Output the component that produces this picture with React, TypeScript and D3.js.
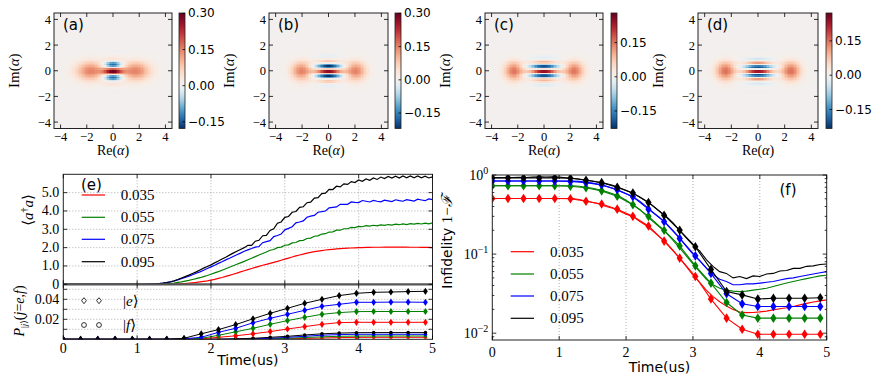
import React from "react";
import * as d3 from "d3";

// ---------- shared ----------
const seriesLabels = ["0.035", "0.055", "0.075", "0.095"];
const seriesColors = ["#ff0000", "#008000", "#0000ff", "#000000"];

// ---------- Wigner panels (a)-(d) ----------
const wignerLabels = ["(a)", "(b)", "(c)", "(d)"];
const blobCenter = [1.7, 2.05, 2.3, 2.45];
const blobSpreadX = [0.75, 1.6, 1.8, 1.8];
const blobPeak = [0.15, 0.15, 0.15, 0.15];
const fringeFreq = [5.7, 7.7, 8.5, 9.5];
const fringeWidth = [2.0, 1.2, 1.0, 1.0];
const fringePeak = [0.28, 0.3, 0.28, 0.27];
const cbarMin = [-0.178, -0.22, -0.227, -0.233];
const cbarMax = [0.302, 0.302, 0.28, 0.272];
const cbarTicks = [
  [0.3, 0.15, 0, -0.15],
  [0.3, 0.15, 0, -0.15],
  [0.15, 0, -0.15],
  [0.15, 0, -0.15],
];
const phaseTicks = [-4, -2, 0, 2, 4];

// ---------- panel (e) ----------
const timeTicks = [0, 1, 2, 3, 4, 5];
const photonTicks = [0, 1, 2, 3, 4, 5];
const photonTickLabels = ["0", "1.0", "2.0", "3.0", "4.0", "5.0"];
const popTicks = [0.01, 0.02, 0.03, 0.04, 0.05];
const popLabelTicks = [0.02, 0.04];

// sample times of the <a+a> curves, every 0.05 us
const photonTimes = d3.range(101).map((k) => k * 0.05);
const photonRed = [
  0, 0, 0, 0, 0, 0, 0, 0, 0, 0, 0, 0, 0, 0, 0, 0, 0, 0, 0, 0, 0, 0, 0, 0, 0, 0, 0, 0, 0,
  0.005, 0.01, 0.02, 0.03, 0.045, 0.06, 0.08, 0.1, 0.13, 0.16, 0.19, 0.23, 0.27, 0.32, 0.37, 0.43,
  0.49, 0.55, 0.61, 0.68, 0.74, 0.8, 0.86, 0.92, 0.98, 1.04, 1.09, 1.14, 1.2, 1.25, 1.31, 1.37,
  1.43, 1.49, 1.55, 1.6, 1.65, 1.7, 1.74, 1.78, 1.81, 1.84, 1.87, 1.89, 1.91, 1.93, 1.95, 1.96,
  1.97, 1.98, 1.99, 2.0,
  2.0, 2.01, 2.01, 2.02, 2.02, 2.02, 2.03, 2.03, 2.03, 2.03, 2.03, 2.03, 2.03, 2.02, 2.02, 2.02,
  2.01, 2.01, 2.01, 2.0,
];
const photonGreen = [
  0, 0, 0, 0, 0, 0, 0, 0, 0, 0, 0, 0, 0, 0, 0, 0, 0, 0, 0, 0, 0, 0, 0, 0, 0, 0,
  0.01, 0.02, 0.03, 0.05, 0.07, 0.1, 0.13, 0.17, 0.21, 0.26, 0.31, 0.36, 0.42, 0.48, 0.55, 0.62,
  0.69, 0.77, 0.85, 0.93, 1.01, 1.09, 1.17, 1.25, 1.34, 1.42, 1.51, 1.6, 1.68, 1.76,
  1.86, 1.9, 2.0, 2.03, 2.13, 2.15, 2.26, 2.28, 2.38, 2.4, 2.5, 2.52, 2.62, 2.64, 2.74, 2.76,
  2.85, 2.86, 2.95, 2.95, 3.03, 3.03, 3.1, 3.09, 3.16, 3.14, 3.2, 3.17, 3.22, 3.19, 3.24, 3.21,
  3.26, 3.23, 3.28, 3.25, 3.3, 3.26, 3.31, 3.28, 3.32, 3.29, 3.34, 3.3, 3.35,
];
const photonBlue = [
  0, 0, 0, 0, 0, 0, 0, 0, 0, 0, 0, 0, 0, 0, 0, 0, 0, 0, 0, 0, 0, 0, 0, 0,
  0.01, 0.02, 0.04, 0.06, 0.09, 0.13, 0.18, 0.24, 0.3, 0.37, 0.44, 0.52, 0.6, 0.68, 0.77, 0.86,
  0.95, 1.04, 1.14, 1.23, 1.33, 1.42, 1.52, 1.61, 1.7, 1.8, 1.88, 1.95,
  2.03, 2.06, 2.27, 2.33, 2.38, 2.6, 2.66, 2.74, 2.97, 3.05, 3.14, 3.35, 3.4, 3.46, 3.66, 3.72,
  3.76, 3.93, 3.96, 4.0, 4.17, 4.2, 4.22, 4.36, 4.36, 4.36, 4.49, 4.47, 4.46, 4.57, 4.53, 4.49,
  4.58, 4.53, 4.5, 4.59, 4.55, 4.51, 4.61, 4.56, 4.53, 4.62, 4.58, 4.54, 4.64, 4.6, 4.56, 4.66,
  4.62,
];
const photonBlack = [
  0, 0, 0, 0, 0, 0, 0, 0, 0, 0, 0, 0, 0, 0, 0, 0, 0, 0, 0, 0, 0, 0, 0,
  0.005, 0.01, 0.02, 0.04, 0.06, 0.1, 0.14, 0.19, 0.26, 0.34, 0.42, 0.5, 0.59, 0.68, 0.78, 0.88,
  0.97, 1.06, 1.17, 1.27, 1.38, 1.48, 1.59, 1.7, 1.8, 1.9, 2.0,
  2.13, 2.12, 2.35, 2.4, 2.65, 2.67, 2.94, 3.03, 3.33, 3.4, 3.65, 3.7, 3.93, 3.97, 4.2, 4.23,
  4.45, 4.48, 4.7, 4.73, 4.95, 4.97, 5.18, 5.17, 5.35, 5.31, 5.48, 5.45, 5.6, 5.55, 5.69, 5.62,
  5.75, 5.67, 5.8, 5.72, 5.85, 5.77, 5.88, 5.79, 5.9, 5.8, 5.91, 5.81, 5.91, 5.81, 5.91, 5.81,
  5.9, 5.8, 5.86,
];

// marker times shared by the population and infidelity markers
const markerTimes = [
  0, 0.234, 0.467, 0.701, 0.934, 1.168, 1.401, 1.635, 1.868, 2.102, 2.335, 2.569, 2.802, 3.036,
  3.269, 3.503, 3.736, 3.97, 4.203, 4.437, 4.67, 4.904,
];
const popERed = [0, 0, 0, 0, 0, 0, 0, 0, 0.0005, 0.002, 0.0035, 0.0055, 0.0077, 0.0103, 0.0127, 0.015, 0.0167, 0.017, 0.017, 0.017, 0.017, 0.017];
const popEGreen = [0, 0, 0, 0, 0, 0, 0, 0, 0.001, 0.004, 0.0075, 0.011, 0.015, 0.0187, 0.022, 0.025, 0.0267, 0.0277, 0.0278, 0.0278, 0.0278, 0.0278];
const popEBlue = [0, 0, 0, 0, 0, 0, 0, 0.0005, 0.002, 0.007, 0.011, 0.0165, 0.021, 0.025, 0.029, 0.033, 0.035, 0.037, 0.037, 0.0372, 0.0372, 0.037];
const popEBlack = [0, 0, 0, 0, 0, 0, 0, 0.001, 0.0055, 0.0097, 0.0147, 0.0205, 0.026, 0.031, 0.036, 0.04, 0.0437, 0.046, 0.047, 0.0473, 0.0477, 0.048];
const popFRed = [0, 0, 0, 0, 0, 0, 0, 0, 0, 0, 0, 0, 0.0002, 0.0005, 0.0009, 0.0013, 0.0017, 0.0019, 0.002, 0.002, 0.002, 0.002];
const popFGreen = [0, 0, 0, 0, 0, 0, 0, 0, 0, 0, 0, 0.0002, 0.0005, 0.001, 0.0018, 0.0025, 0.003, 0.0032, 0.0033, 0.0033, 0.0033, 0.0033];
const popFBlue = [0, 0, 0, 0, 0, 0, 0, 0, 0, 0, 0.0002, 0.0005, 0.001, 0.002, 0.003, 0.0041, 0.0047, 0.005, 0.005, 0.005, 0.005, 0.005];
const popFBlack = [0, 0, 0, 0, 0, 0, 0, 0, 0, 0, 0.0005, 0.001, 0.002, 0.003, 0.0043, 0.0055, 0.0062, 0.0066, 0.0067, 0.0067, 0.0067, 0.0067];

// ---------- panel (f) ----------
const infidelityTimes = d3.range(51).map((k) => k * 0.1);
const infRed = [
  0.505, 0.505, 0.505, 0.505, 0.505, 0.505, 0.505, 0.505, 0.505, 0.505, 0.505, 0.505, 0.505,
  0.49, 0.47, 0.45, 0.43, 0.4, 0.38, 0.35, 0.32, 0.3, 0.26, 0.23, 0.195, 0.165, 0.14, 0.112, 0.089,
  0.07, 0.054, 0.044, 0.035, 0.029, 0.025, 0.022, 0.02, 0.0185, 0.0182, 0.0183, 0.0186, 0.019,
  0.0197, 0.0204, 0.021, 0.0218, 0.0228, 0.0238, 0.0248, 0.0256, 0.0264,
];
const infGreen = [
  0.73, 0.73, 0.73, 0.73, 0.73, 0.73, 0.73, 0.73, 0.73, 0.73, 0.73, 0.73, 0.73,
  0.72, 0.7, 0.68, 0.65, 0.62, 0.58, 0.54, 0.48, 0.42, 0.37, 0.31, 0.26, 0.22, 0.185, 0.15, 0.12,
  0.095, 0.075, 0.06, 0.048, 0.041, 0.037, 0.035, 0.034, 0.0335, 0.034, 0.035, 0.036, 0.037,
  0.039, 0.041, 0.043, 0.045, 0.047, 0.049, 0.051, 0.053, 0.054,
];
const infBlue = [
  0.84, 0.84, 0.84, 0.84, 0.84, 0.84, 0.84, 0.84, 0.84, 0.84, 0.84, 0.84, 0.84,
  0.83, 0.81, 0.79, 0.76, 0.72, 0.68, 0.63, 0.58, 0.53, 0.47, 0.4, 0.34, 0.29, 0.245, 0.2, 0.16,
  0.125, 0.1, 0.083, 0.067, 0.055, 0.048, 0.045, 0.041, 0.041, 0.042, 0.042, 0.043, 0.044, 0.045,
  0.047, 0.049, 0.05, 0.052, 0.054, 0.056, 0.058, 0.06,
];
const infBlack = [
  0.92, 0.93, 0.925, 0.93, 0.935, 0.93, 0.94, 0.95, 0.945, 0.95, 0.94, 0.925, 0.91,
  0.89, 0.86, 0.84, 0.81, 0.78, 0.74, 0.69, 0.64, 0.59, 0.53, 0.47, 0.41, 0.35, 0.3, 0.25, 0.2,
  0.16, 0.13, 0.11, 0.085, 0.07, 0.06, 0.057, 0.05, 0.052, 0.049, 0.053, 0.052, 0.056, 0.057,
  0.061, 0.062, 0.066, 0.066, 0.07, 0.071, 0.074, 0.075,
];
const infMkRed = [0.505, 0.505, 0.505, 0.505, 0.505, 0.5, 0.465, 0.43, 0.37, 0.3, 0.227, 0.146, 0.089, 0.052, 0.027, 0.0155, 0.0112, 0.0097, 0.0097, 0.0097, 0.0097, 0.0097];
const infMkGreen = [0.73, 0.73, 0.73, 0.73, 0.73, 0.72, 0.69, 0.63, 0.54, 0.42, 0.3, 0.2, 0.127, 0.071, 0.043, 0.0244, 0.017, 0.0155, 0.0155, 0.0155, 0.0155, 0.0155];
const infMkBlue = [0.84, 0.84, 0.84, 0.84, 0.84, 0.83, 0.8, 0.75, 0.65, 0.53, 0.37, 0.257, 0.158, 0.095, 0.057, 0.0315, 0.0235, 0.0217, 0.0217, 0.0217, 0.0217, 0.0217];
const infMkBlack = [0.92, 0.92, 0.92, 0.92, 0.92, 0.91, 0.86, 0.8, 0.7, 0.59, 0.45, 0.31, 0.2, 0.124, 0.064, 0.0336, 0.0305, 0.027, 0.0276, 0.0276, 0.0276, 0.028];
const infDecades = [0, -1, -2];

// ---------- layout ----------
const SERIF = "'Liberation Serif', 'DejaVu Serif', serif";
const SANS = "'DejaVu Sans', sans-serif";
const HEAT = {
  top: 13,
  bottom: 128.5,
  x0: [54, 269, 485, 698],
  x1: [172, 388, 603, 818],
  cb: [179, 395, 611, 826],
  cbW: 6,
};
const GRID = 80;
const E = { left: 63.3, right: 432.5, top: 174.3, mid: 284.3, bottom: 339.3 };
const F = { left: 492.3, right: 826.7, top: 175, bottom: 340 };

const wigner = (i: number, re: number, im: number) => {
  const blob = (x: number) => Math.exp(-blobSpreadX[i] * x * x - 1.8 * im * im);
  const envelope = Math.exp(-fringeWidth[i] * re * re - 2 * im * im);
  return (
    blobPeak[i] * (blob(re - blobCenter[i]) + blob(re + blobCenter[i])) +
    fringePeak[i] * envelope * Math.cos(fringeFreq[i] * im)
  );
};

const diamond = (w: number, h: number) => `M0,${-h}L${w},0L0,${h}L${-w},0Z`;

function WignerPanel({ i }: { i: number }) {
  const x0 = HEAT.x0[i];
  const x1 = HEAT.x1[i];
  const xs = d3.scaleLinear().domain([-4.5, 4.5]).range([x0, x1]);
  const ys = d3.scaleLinear().domain([-4.5, 4.5]).range([HEAT.bottom, HEAT.top]);
  const color = d3
    .scaleDiverging((t: number) => d3.interpolateRdBu(1 - t))
    .domain([cbarMin[i], 0, cbarMax[i]])
    .clamp(true);
  const step = 9 / GRID;
  const centers = d3.range(GRID).map((k) => -4.5 + (k + 0.5) * step);
  const cw = xs(step) - xs(0);
  const ch = ys(0) - ys(step);
  const cells: any[] = [];
  centers.forEach((re, a) =>
    centers.forEach((im, b) => {
      cells.push(
        <rect
          key={a * GRID + b}
          x={xs(re) - cw / 2}
          y={ys(im) - ch / 2}
          width={cw + 0.35}
          height={ch + 0.35}
          fill={color(wigner(i, re, im))}
        />
      );
    })
  );
  const cbX = HEAT.cb[i];
  const cbY = d3.scaleLinear().domain([cbarMin[i], cbarMax[i]]).range([HEAT.bottom, HEAT.top]);
  const fmt = d3.format(".2f");
  const fmtInt = d3.format("d");
  const gid = `cbar${i}`;
  return (
    <g>
      <defs>
        <linearGradient id={gid} x1="0" y1="1" x2="0" y2="0">
          {d3.range(0, 1.0001, 0.02).map((s) => (
            <stop key={s} offset={s} stopColor={color(cbarMin[i] + s * (cbarMax[i] - cbarMin[i]))} />
          ))}
        </linearGradient>
      </defs>
      <g shapeRendering="crispEdges">{cells}</g>
      <rect x={x0} y={HEAT.top} width={x1 - x0} height={HEAT.bottom - HEAT.top} fill="none" stroke="#222" strokeWidth={1} />
      {phaseTicks.map((t) => (
        <g key={"t" + t} stroke="#000" strokeWidth={0.8}>
          <line x1={xs(t)} x2={xs(t)} y1={HEAT.bottom} y2={HEAT.bottom - 4} />
          <line x1={xs(t)} x2={xs(t)} y1={HEAT.top} y2={HEAT.top + 4} />
          <line x1={x0} x2={x0 + 4} y1={ys(t)} y2={ys(t)} />
          <line x1={x1} x2={x1 - 4} y1={ys(t)} y2={ys(t)} />
        </g>
      ))}
      {phaseTicks.map((t) => (
        <text key={"xl" + t} x={xs(t)} y={HEAT.bottom + 12} textAnchor="middle" fontFamily={SERIF} fontSize={12.5}>
          {fmtInt(t)}
        </text>
      ))}
      {phaseTicks.map((t) => (
        <text key={"yl" + t} x={x0 - 3} y={ys(t) + 4.5} textAnchor="end" fontFamily={SERIF} fontSize={12.5}>
          {fmtInt(t)}
        </text>
      ))}
      <text x={(x0 + x1) / 2} y={155} textAnchor="middle" fontFamily={SERIF} fontSize={14}>
        Re(<tspan fontStyle="italic">α</tspan>)
      </text>
      <text
        transform={`translate(${x0 - 35},${(HEAT.top + HEAT.bottom) / 2}) rotate(-90)`}
        textAnchor="middle"
        fontFamily={SERIF}
        fontSize={15}
      >
        Im(<tspan fontStyle="italic">α</tspan>)
      </text>
      <text x={x0 + 9} y={HEAT.top + 17} fontFamily={SANS} fontSize={15}>
        {wignerLabels[i]}
      </text>
      <rect x={cbX} y={HEAT.top} width={HEAT.cbW} height={HEAT.bottom - HEAT.top} fill={`url(#${gid})`} stroke="#222" strokeWidth={0.8} />
      {cbarTicks[i].map((v) => (
        <g key={"cb" + v}>
          <line x1={cbX + HEAT.cbW} x2={cbX + HEAT.cbW - 2.5} y1={cbY(v)} y2={cbY(v)} stroke="#000" strokeWidth={0.8} />
          <text x={cbX + HEAT.cbW + 3} y={cbY(v) + 4} fontFamily={SANS} fontSize={12}>
            {fmt(v)}
          </text>
        </g>
      ))}
    </g>
  );
}

function PhotonPanel() {
  const x = d3.scaleLinear().domain([0, 5]).range([E.left, E.right]);
  const yTop = d3.scaleLinear().domain([0, 6]).range([E.mid, E.top]);
  const yBot = d3.scaleLinear().domain([0, 0.055]).range([E.bottom, E.mid]);
  const photonSeries = [photonRed, photonGreen, photonBlue, photonBlack];
  const popE = [popERed, popEGreen, popEBlue, popEBlack];
  const popF = [popFRed, popFGreen, popFBlue, popFBlack];
  const topLine = d3
    .line<number>()
    .x((_, k) => x(photonTimes[k]))
    .y((v) => yTop(v));
  const botLine = d3
    .line<number>()
    .x((_, k) => x(markerTimes[k]))
    .y((v) => yBot(v));
  const legendY = [195, 217.3, 239.3, 261.7];
  return (
    <g>
      <defs>
        <clipPath id="clipETop">
          <rect x={E.left} y={E.top} width={E.right - E.left} height={E.mid - E.top} />
        </clipPath>
        <clipPath id="clipEBot">
          <rect x={E.left} y={E.mid} width={E.right - E.left} height={E.bottom - E.mid} />
        </clipPath>
      </defs>
      {/* grids */}
      <g stroke="#9a9a9a" strokeWidth={0.8} strokeDasharray="1,2">
        {timeTicks.slice(1, 5).map((t) => (
          <line key={"gx" + t} x1={x(t)} x2={x(t)} y1={E.top} y2={E.bottom} />
        ))}
        {photonTicks.slice(1).map((v) => (
          <line key={"gy" + v} x1={E.left} x2={E.right} y1={yTop(v)} y2={yTop(v)} />
        ))}
        {popTicks.map((v) => (
          <line key={"gp" + v} x1={E.left} x2={E.right} y1={yBot(v)} y2={yBot(v)} />
        ))}
      </g>
      {/* top: mean photon number */}
      <g clipPath="url(#clipETop)" fill="none" strokeWidth={1.2}>
        {photonSeries.map((s, k) => (
          <path key={k} d={topLine(s) || ""} stroke={seriesColors[k]} />
        ))}
      </g>
      {/* bottom: populations */}
      <g clipPath="url(#clipEBot)">
        {popF.map((s, k) => (
          <g key={"f" + k}>
            <path d={botLine(s) || ""} fill="none" stroke={seriesColors[k]} strokeWidth={1} />
            {s.map((v, j) => (
              <circle key={j} cx={x(markerTimes[j])} cy={yBot(v)} r={1.8} fill={seriesColors[k]} />
            ))}
          </g>
        ))}
        {popE.map((s, k) => (
          <g key={"e" + k}>
            <path d={botLine(s) || ""} fill="none" stroke={seriesColors[k]} strokeWidth={1} />
            {s.map((v, j) => (
              <path key={j} d={diamond(2.4, 3.6)} transform={`translate(${x(markerTimes[j])},${yBot(v)})`} fill={seriesColors[k]} />
            ))}
          </g>
        ))}
      </g>
      {/* frames */}
      <rect x={E.left} y={E.top} width={E.right - E.left} height={E.bottom - E.top} fill="none" stroke="#222" strokeWidth={1} />
      <line x1={E.left} x2={E.right} y1={E.mid} y2={E.mid} stroke="#555" strokeWidth={2.2} />
      {/* ticks */}
      <g stroke="#000" strokeWidth={0.8}>
        {timeTicks.map((t) => (
          <g key={"xt" + t}>
            <line x1={x(t)} x2={x(t)} y1={E.top} y2={E.top + 4} />
            <line x1={x(t)} x2={x(t)} y1={E.mid} y2={E.mid - 4} />
            <line x1={x(t)} x2={x(t)} y1={E.mid} y2={E.mid + 4} />
            <line x1={x(t)} x2={x(t)} y1={E.bottom} y2={E.bottom - 4} />
          </g>
        ))}
        {photonTicks.map((v) => (
          <g key={"yt" + v}>
            <line x1={E.left} x2={E.left + 4} y1={yTop(v)} y2={yTop(v)} />
            <line x1={E.right} x2={E.right - 4} y1={yTop(v)} y2={yTop(v)} />
          </g>
        ))}
        {popTicks.map((v) => (
          <g key={"pt" + v}>
            <line x1={E.left} x2={E.left + 4} y1={yBot(v)} y2={yBot(v)} />
            <line x1={E.right} x2={E.right - 4} y1={yBot(v)} y2={yBot(v)} />
          </g>
        ))}
      </g>
      {/* tick labels */}
      <g fontFamily={SERIF} fontSize={14}>
        {photonTicks.map((v, k) => (
          <text key={"yl" + v} x={E.left - 4} y={yTop(v) + 4.5} textAnchor="end">
            {photonTickLabels[k]}
          </text>
        ))}
        {popLabelTicks.map((v) => (
          <text key={"pl" + v} x={E.left - 4} y={yBot(v) + 4.5} textAnchor="end">
            {d3.format(".2f")(v)}
          </text>
        ))}
        {timeTicks.map((t) => (
          <text key={"xl" + t} x={x(t)} y={352.5} textAnchor="middle">
            {t}
          </text>
        ))}
      </g>
      <text x={(E.left + E.right) / 2} y={365} textAnchor="middle" fontFamily={SANS} fontSize={14}>
        Time(us)
      </text>
      <text transform="translate(33,210) rotate(-90)" textAnchor="middle" fontFamily={SERIF} fontSize={15}>
        ⟨<tspan fontStyle="italic">a</tspan>
        <tspan fontSize={10} dy={-5}>†</tspan>
        <tspan fontStyle="italic" dy={5}>a</tspan>⟩
      </text>
      <text transform="translate(24,311) rotate(-90)" textAnchor="middle" fontFamily={SERIF} fontSize={14}>
        <tspan fontStyle="italic">P</tspan>
        <tspan fontSize={9} dy={3}>|</tspan>
        <tspan fontSize={9} fontStyle="italic">j</tspan>
        <tspan fontSize={9}>⟩</tspan>
        <tspan dy={-3}>(</tspan>
        <tspan fontStyle="italic">j</tspan>=<tspan fontStyle="italic">e</tspan>,<tspan fontStyle="italic">f</tspan>)
      </text>
      {/* legends */}
      <text x={81} y={190} fontFamily={SANS} fontSize={15}>
        (e)
      </text>
      {seriesLabels.map((lab, k) => (
        <g key={lab}>
          <line x1={81.7} x2={105} y1={legendY[k]} y2={legendY[k]} stroke={seriesColors[k]} strokeWidth={1.2} />
          <text x={120.7} y={legendY[k] + 5} fontFamily={SERIF} fontSize={15}>
            {lab}
          </text>
        </g>
      ))}
      {[84, 99].map((lx) => (
        <g key={lx}>
          <path d={diamond(2.4, 3)} transform={`translate(${lx},300.7)`} fill="#fff" stroke="#000" strokeWidth={0.8} />
          <circle cx={lx} cy={325} r={2.4} fill="#fff" stroke="#000" strokeWidth={0.8} />
        </g>
      ))}
      <text x={123} y={305.5} fontFamily={SERIF} fontSize={15}>
        |<tspan fontStyle="italic">e</tspan>⟩
      </text>
      <text x={123} y={330} fontFamily={SERIF} fontSize={15}>
        |<tspan fontStyle="italic">f</tspan>⟩
      </text>
    </g>
  );
}

function InfidelityPanel() {
  const x = d3.scaleLinear().domain([0, 5]).range([F.left, F.right]);
  const y = d3.scaleLog().domain([0.0082, 1]).range([F.bottom, F.top]);
  const lines = [infRed, infGreen, infBlue, infBlack];
  const marks = [infMkRed, infMkGreen, infMkBlue, infMkBlack];
  const curve = d3
    .line<number>()
    .x((_, k) => x(infidelityTimes[k]))
    .y((v) => y(v));
  const markCurve = d3
    .line<number>()
    .x((_, k) => x(markerTimes[k]))
    .y((v) => y(v));
  const minor: number[] = [];
  [-3, -2, -1].forEach((d) =>
    d3.range(2, 10).forEach((m) => {
      const v = m * Math.pow(10, d);
      if (v >= 0.0082 && v < 1) minor.push(v);
    })
  );
  const legendY = [251.7, 274, 296, 318.3];
  return (
    <g>
      <defs>
        <clipPath id="clipF">
          <rect x={F.left} y={F.top} width={F.right - F.left} height={F.bottom - F.top} />
        </clipPath>
      </defs>
      <g stroke="#9a9a9a" strokeWidth={0.8} strokeDasharray="1,2">
        {timeTicks.slice(1, 5).map((t) => (
          <line key={t} x1={x(t)} x2={x(t)} y1={F.top} y2={F.bottom} />
        ))}
      </g>
      <g clipPath="url(#clipF)">
        {lines.map((s, k) => (
          <path key={"l" + k} d={curve(s) || ""} fill="none" stroke={seriesColors[k]} strokeWidth={1.1} />
        ))}
        {marks.map((s, k) => (
          <g key={"m" + k}>
            <path d={markCurve(s) || ""} fill="none" stroke={seriesColors[k]} strokeWidth={1.1} />
            {s.map((v, j) => (
              <path key={j} d={diamond(3.1, 4.8)} transform={`translate(${x(markerTimes[j])},${y(v)})`} fill={seriesColors[k]} />
            ))}
          </g>
        ))}
      </g>
      <rect x={F.left} y={F.top} width={F.right - F.left} height={F.bottom - F.top} fill="none" stroke="#222" strokeWidth={1} />
      <g stroke="#000" strokeWidth={0.8}>
        {timeTicks.map((t) => (
          <g key={"xt" + t}>
            <line x1={x(t)} x2={x(t)} y1={F.top} y2={F.top + 4} />
            <line x1={x(t)} x2={x(t)} y1={F.bottom} y2={F.bottom - 4} />
          </g>
        ))}
        {infDecades.map((d) => (
          <g key={"yt" + d}>
            <line x1={F.left} x2={F.left + 4} y1={y(Math.pow(10, d))} y2={y(Math.pow(10, d))} />
            <line x1={F.right} x2={F.right - 4} y1={y(Math.pow(10, d))} y2={y(Math.pow(10, d))} />
          </g>
        ))}
        {minor.map((v) => (
          <g key={"mt" + v}>
            <line x1={F.left} x2={F.left + 2} y1={y(v)} y2={y(v)} />
            <line x1={F.right} x2={F.right - 2} y1={y(v)} y2={y(v)} />
          </g>
        ))}
      </g>
      <g fontFamily={SERIF} fontSize={14}>
        {timeTicks.map((t) => (
          <text key={"xl" + t} x={x(t)} y={356.5} textAnchor="middle">
            {t}
          </text>
        ))}
        {infDecades.map((d) => (
          <text key={"yl" + d} x={F.left - 4} y={y(Math.pow(10, d)) + 5} textAnchor="end">
            10<tspan fontSize={10} dy={-6}>{d === 0 ? "0" : "−" + -d}</tspan>
          </text>
        ))}
      </g>
      <text x={(F.left + F.right) / 2} y={372} textAnchor="middle" fontFamily={SANS} fontSize={14}>
        Time(us)
      </text>
      <text transform="translate(452,242) rotate(-90)" textAnchor="middle" fontFamily={SANS} fontSize={14}>
        Infidelity <tspan fontFamily={SERIF} fontSize={15}>1−</tspan>
        <tspan fontFamily={SERIF} fontSize={15} fontStyle="italic">ℱ</tspan>
      </text>
      <text x={788} y={195} textAnchor="middle" fontFamily={SANS} fontSize={15}>
        (f)
      </text>
      {seriesLabels.map((lab, k) => (
        <g key={lab}>
          <line x1={510.7} x2={534} y1={legendY[k]} y2={legendY[k]} stroke={seriesColors[k]} strokeWidth={1.2} />
          <text x={550} y={legendY[k] + 5} fontFamily={SERIF} fontSize={15}>
            {lab}
          </text>
        </g>
      ))}
    </g>
  );
}

export default function App() {
  return (
    <svg width={872} height={382} style={{ position: "absolute", left: 0, top: 0 }}>
      <rect width={872} height={382} fill="#fff" />
      {wignerLabels.map((_, i) => (
        <WignerPanel key={i} i={i} />
      ))}
      <PhotonPanel />
      <InfidelityPanel />
    </svg>
  );
}
